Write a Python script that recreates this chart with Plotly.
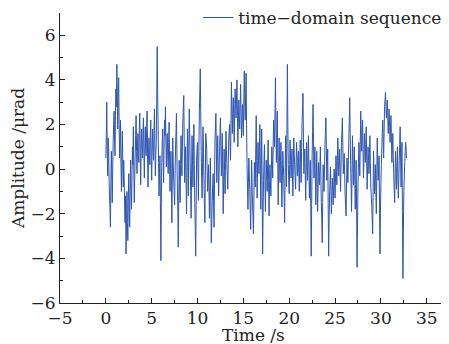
import plotly.graph_objects as go

# amplitude samples (μrad): s-rows hold samples at whole 0.1 s, m-rows the samples in between
s0 = [0.5, 3.0, -0.3, 1.0, -1.2, -2.6, 0.8, -1.5, 1.2, 2.6]
s1 = [0.6, 3.6, 4.7, 1.8, 4.1, 0.5, 2.2, -1.0, 1.7, -0.8]
s2 = [-0.5, -2.4, -3.8, -1.0, -3.2, -0.2, -2.6, 0.4, -1.8, 1.0]
s3 = [1.9, -1.5, 0.6, 2.4, -0.2, 1.6, 0.3, 2.5, -0.7, 1.8]
s4 = [0.5, 2.3, -0.4, 1.9, 0.6, 2.6, -0.8, 1.4, 0.2, 2.2]
s5 = [-0.5, 1.8, 0.4, 2.7, -0.3, 1.2, 5.5, 2.0, -1.2, 0.6]
s6 = [-4.1, 0.3, 1.8, -0.6, 2.2, 2.8, 0.1, 1.6, -0.2, 2.1]
s7 = [-1.0, 0.8, -2.4, 1.4, -0.5, -1.6, 0.9, 2.5, -0.8, -3.5]
s8 = [0.4, -1.5, 1.5, -0.3, 2.2, 3.3, -0.6, 1.0, -2.0, 1.8]
s9 = [-1.2, 2.7, 0.3, -2.2, 1.5, -0.8, 2.0, -1.5, -3.9, 0.5]
s10 = [1.2, -1.4, 2.6, 4.5, 0.8, -1.3, 1.9, -0.4, -2.4, 1.6]
s11 = [0.9, -1.0, 0.2, -2.2, 0.5, -3.3, -1.5, -0.2, -2.6, 1.2]
s12 = [2.5, -0.6, 1.5, -1.2, 0.8, 2.3, -0.3, 1.6, -2.0, 0.9]
s13 = [-1.1, 1.7, 0.2, -0.9, 1.3, 2.0, 0.4, 3.9, 1.6, 3.2]
s14 = [1.2, 3.6, 2.3, 4.0, 1.0, 3.1, 1.8, 3.8, 1.4, 2.9]
s15 = [1.5, 4.4, 2.2, 4.3, 0.2, -1.8, 0.5, -0.9, -2.7, 0.4]
s16 = [-1.6, -2.9, 0.3, -0.8, 2.4, -1.3, 1.2, -0.2, 2.0, -1.8]
s17 = [1.8, -3.8, -0.5, 1.1, -1.9, 0.4, -1.0, 1.3, -2.1, 0.2]
s18 = [-1.2, 1.0, -0.4, 2.2, 1.0, 4.1, 0.3, 2.6, -1.6, 1.4]
s19 = [-0.6, 1.2, -1.7, 0.8, -0.3, -2.4, 1.5, -0.8, 4.7, 0.2]
s20 = [-1.1, 1.3, -0.4, 0.9, -1.2, 1.4, 0.1, -0.9, 1.2, -0.3]
s21 = [0.8, -1.0, 1.3, -0.6, 2.1, 3.4, -0.2, 0.9, -1.4, 1.2]
s22 = [-0.5, 1.5, -1.3, 0.4, -3.9, 0.6, 2.9, -0.4, 1.0, -1.6]
s23 = [0.8, -1.9, 0.3, -0.7, 1.0, -1.5, -3.3, 0.2, -1.0, 1.1]
s24 = [2.3, -0.5, 0.9, -3.9, -1.2, 0.1, -2.0, -0.4, -1.6, 0.0]
s25 = [-1.3, 0.6, -0.7, 1.4, -0.3, 0.9, -1.0, 1.2, 2.3, -0.2]
s26 = [0.7, -1.2, -2.1, 0.5, -0.6, 1.3, 3.2, 0.2, -1.9, 1.5]
s27 = [-0.7, 1.0, -1.8, 0.4, -4.4, -0.8, 1.2, -0.3, 2.6, 0.8]
s28 = [2.2, -0.4, 1.6, 0.3, 1.9, -0.9, 1.0, -0.2, 1.5, -0.8]
s29 = [-1.6, -2.9, 0.8, -1.1, 0.2, -2.0, 1.4, -0.5, 0.6, -3.8]
s30 = [-0.6, 1.0, 2.2, 0.5, 2.8, 3.45, 2.3, 3.1, 1.6, 2.7]
s31 = [1.2, 2.4, 0.3, 1.6, -0.2, -1.5, 0.8, -0.9, 1.0, -1.3]
s32 = [0.4, 1.9, -0.8, 1.2, -4.9, -1.0, 0.3, 1.2, 0.5]

m0 = [1.5, 0.8, 1.4, -0.4, -1.8, -0.6, -0.4, 0.1, 2.0, 1.3]
m1 = [2.4, 2.8, 3.2, 3.5, 2.0, 1.4, 0.3, 0.5, 0.2, 0.4]
m2 = [-1.6, -1.2, -2.6, -2.4, -1.4, -1.5, -1.0, -0.9, -0.3, 0.2]
m3 = [0.0, -0.4, 1.5, 0.8, 1.0, 0.6, 1.8, 0.9, 0.8, 1.0]
m4 = [1.6, 0.7, 1.0, 0.9, 1.8, 0.7, 0.5, 0.6, 1.5, 0.4]
m5 = [0.9, 1.0, 1.6, 1.1, 0.6, 3.0, 3.4, 0.3, -0.2, -1.5]
m6 = [-1.6, 1.2, 0.5, 1.0, 1.5, 1.2, 1.1, 0.6, 1.2, 0.5]
m7 = [0.1, -0.7, -0.4, 0.3, -1.0, -0.2, 1.6, 0.7, -1.9, -1.4]
m8 = [-0.6, 0.2, 0.5, 1.0, 2.8, 1.2, 0.3, -0.5, -0.1, 0.4]
m9 = [0.9, 1.4, -1.0, -0.3, 0.4, 0.8, 0.2, -2.6, -1.6, 0.9]
m10 = [-0.2, 0.8, 3.5, 2.6, -0.4, 0.3, 0.7, -1.5, -0.3, 1.3]
m11 = [-0.1, -0.4, -1.0, -0.8, -1.4, -2.4, -0.8, -1.4, -0.7, 1.9]
m12 = [1.0, 0.5, 0.1, -0.2, 1.6, 1.0, 0.7, -0.2, -0.5, -0.1]
m13 = [0.3, 0.9, -0.4, 0.2, 1.7, 1.1, 2.2, 2.7, 2.5, 2.2]
m14 = [2.5, 2.9, 3.1, 2.4, 2.1, 2.4, 2.9, 2.5, 2.2, 2.1]
m15 = [3.1, 3.2, 3.4, 2.0, -0.9, -0.6, -0.3, -1.9, -1.0, -0.6]
m16 = [-2.1, -1.2, -0.3, 0.9, 0.4, 0.1, 0.4, 1.0, 0.2, 0.1]
m17 = [-0.9, -2.0, 0.4, -0.5, -0.6, -0.4, 0.2, -0.5, -0.8, -0.6]
m18 = [0.0, 0.4, 1.0, 1.4, 2.6, 2.0, 1.6, 0.4, 0.0, 0.3]
m19 = [0.4, -0.4, -0.5, 0.2, -1.4, -0.3, 0.3, 1.8, 2.0, -0.6]
m20 = [0.2, 0.4, 0.3, -0.3, 0.2, 0.6, -0.5, 0.3, 0.4, 0.3]
m21 = [-0.2, 0.3, 0.2, 0.8, 2.7, 1.4, 0.5, -0.3, 0.0, 0.3]
m22 = [0.6, 0.1, -0.5, -1.8, -1.6, 1.7, 1.2, 0.4, -0.3, -0.4]
m23 = [-0.6, -0.8, -0.2, 0.1, -0.3, -2.2, -1.5, -0.4, 0.1, 1.6]
m24 = [0.9, 0.2, -1.5, -2.3, -0.5, -1.0, -1.2, -1.0, -0.8, -0.6]
m25 = [-0.4, -0.1, 0.4, 0.5, 0.3, -0.1, 0.1, 1.7, 1.0, 0.3]
m26 = [-0.3, -1.6, -0.8, 0.0, 0.4, 2.2, 1.6, -0.8, -0.2, 0.4]
m27 = [0.2, -0.4, -0.7, -1.8, -2.5, 0.3, 0.4, 1.1, 1.7, 1.5]
m28 = [0.9, 0.6, 0.9, 1.1, 0.4, 0.1, 0.4, 0.7, 0.3, -1.2]
m29 = [-2.2, -1.0, -0.2, -0.4, -1.0, -0.3, 0.4, 0.0, -1.6, -2.0]
m30 = [0.2, 1.6, 1.3, 1.7, 3.1, 2.8, 2.7, 2.3, 2.2, 1.9]
m31 = [1.8, 1.3, 1.0, 0.6, -0.9, -0.3, -0.1, 0.1, -0.2, -0.5]
m32 = [1.1, 0.5, 0.3, -1.9, -2.9, -0.4, 0.8, 0.9]

rows_s = [s0, s1, s2, s3, s4, s5, s6, s7, s8, s9, s10, s11, s12, s13, s14, s15, s16,
          s17, s18, s19, s20, s21, s22, s23, s24, s25, s26, s27, s28, s29, s30, s31, s32]
rows_m = [m0, m1, m2, m3, m4, m5, m6, m7, m8, m9, m10, m11, m12, m13, m14, m15, m16,
          m17, m18, m19, m20, m21, m22, m23, m24, m25, m26, m27, m28, m29, m30, m31, m32]

amplitude = []
for a, b in zip(rows_s, rows_m):
    for k in range(len(a)):
        amplitude.append(a[k])
        if k < len(b):
            amplitude.append(b[k])

sample_step = 0.05
time = [round(i * sample_step, 3) for i in range(len(amplitude))]

x_ticks = [-5, 0, 5, 10, 15, 20, 25, 30, 35]
y_ticks = [-6, -4, -2, 0, 2, 4, 6]

font_family = "DejaVu Serif"
blue = "#2d55b2"
ink = "#222222"

fig = go.Figure()
fig.add_trace(go.Scatter(
    x=time, y=amplitude, mode="lines",
    line=dict(color=blue, width=1.0, simplify=False),
    name="time\u2212domain sequence",
))

axis_common = dict(
    showline=True, linecolor=ink, linewidth=1,
    ticks="inside", ticklen=5, tickwidth=1, tickcolor=ink,
    showgrid=False, zeroline=False, mirror=False, automargin=False,
    tickfont=dict(family=font_family, size=17, color=ink),
)

# the page body adds an 8px offset, so the figure is sized to fit inside it
fig.update_layout(
    width=441, height=336,
    margin=dict(l=52, r=3, t=5, b=41, autoexpand=False),
    paper_bgcolor="white", plot_bgcolor="white",
    font=dict(family=font_family, size=17, color=ink),
    showlegend=True,
    legend=dict(x=1.003, xanchor="right", y=1.045, yanchor="top",
                bgcolor="rgba(0,0,0,0)", font=dict(size=17),
                itemwidth=30, tracegroupgap=0),
    xaxis=dict(range=[-5, 37.1], tickvals=x_ticks,
               minor=dict(dtick=2.5, ticks="inside", ticklen=3, tickcolor=ink),
               **axis_common),
    yaxis=dict(range=[-6, 7], tickvals=y_ticks,
               minor=dict(dtick=1, ticks="inside", ticklen=3, tickcolor=ink),
               title=dict(text="Amplitude /\u03bcrad", standoff=5, font=dict(size=17)),
               **axis_common),
    annotations=[dict(text="Time /s", xref="paper", yref="paper",
                      x=0.5, y=-0.112, xanchor="center", yanchor="middle",
                      showarrow=False, font=dict(family=font_family, size=17, color=ink))],
)

fig.write_html("out.html")
